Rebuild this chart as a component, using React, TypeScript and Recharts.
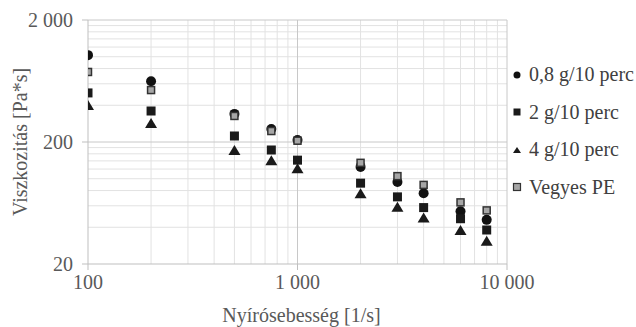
import React from 'react';
import { ScatterChart, Scatter, XAxis, YAxis, ReferenceLine } from 'recharts';

// shear rate [1/s]
const shearRates = [100, 200, 500, 750, 1000, 2000, 3000, 4000, 6000, 8000];

// viscosity [Pa*s] per material
const mfi08 = [1030, 630, 340, 256, 208, 125, 94, 76, 54, 46];
const mfi2 = [505, 359, 224, 172, 142, 92, 71, 58, 47, 38];
const mfi4 = [402, 286, 172, 142, 122, 76, 59, 48, 38, 31];
const mixedPE = [750, 533, 327, 246, 205, 135, 105, 89, 64, 55];

const xTicks = [100, 1000, 10000];
const yTicks = [20, 200, 2000];
const xMinor = [200, 300, 400, 500, 600, 700, 800, 900, 2000, 3000, 4000, 5000, 6000, 7000, 8000, 9000];
const yMinor = [40, 60, 80, 100, 120, 140, 160, 180, 400, 600, 800, 1000, 1200, 1400, 1600, 1800];
const xMajor = [1000, 10000];
const yMajor = [200, 2000];

const FONT = 'Liberation Serif, Times New Roman, serif';
const TEXT = '#595959';
const FS = 20;

const toPoints = (ys: number[]) => shearRates.map((x, i) => ({ x, y: ys[i] }));

const Circle = ({ cx, cy }: any) => <circle cx={cx} cy={cy} r={5} fill="#111" />;
const Square = ({ cx, cy }: any) => <rect x={cx - 4.5} y={cy - 4.5} width={9} height={9} fill="#1a1a1a" />;
const Triangle = ({ cx, cy }: any) => (
  <polygon points={`${cx},${cy - 5} ${cx + 6},${cy + 5} ${cx - 6},${cy + 5}`} fill="#1a1a1a" />
);
const GraySquare = ({ cx, cy }: any) => (
  <rect x={cx - 3.5} y={cy - 3.5} width={7} height={7} fill="#a6a6a6" stroke="#333" strokeWidth={1.5} />
);

const series = [
  { name: '0,8 g/10 perc', data: mfi08, shape: Circle },
  { name: '2 g/10 perc', data: mfi2, shape: Square },
  { name: '4 g/10 perc', data: mfi4, shape: Triangle },
  { name: 'Vegyes PE', data: mixedPE, shape: GraySquare },
];

const fmt = (v: number) =>
  v >= 1000 ? `${Math.floor(v / 1000)} ${String(v % 1000).padStart(3, '0')}` : String(v);

const LegendIcon = ({ i }: { i: number }) => (
  <svg width={10} height={10}>
    {i === 0 && <circle cx={5} cy={5} r={3.5} fill="#111" />}
    {i === 1 && <rect x={1.5} y={1.5} width={7} height={7} fill="#1a1a1a" />}
    {i === 2 && <polygon points="5,2 9,8 1,8" fill="#1a1a1a" />}
    {i === 3 && <rect x={1.5} y={1.5} width={7} height={7} fill="#a6a6a6" stroke="#333" strokeWidth={1.2} />}
  </svg>
);

export default function App() {
  return (
    <div className="chart" style={{ position: 'absolute', left: 0, top: 0, width: 636, height: 327, background: '#fff', fontFamily: FONT }}>
      <style>{`.chart, .chart text, .chart span { font-family: 'Liberation Serif', 'Times New Roman', serif !important; }`}</style>
      <ScatterChart width={636} height={327} margin={{ top: 20, right: 129, bottom: 0, left: 0 }}>
        <XAxis
          dataKey="x"
          type="number"
          scale="log"
          domain={[100, 10000]}
          allowDataOverflow
          ticks={xTicks}
          tickFormatter={fmt}
          height={63}
          stroke="#bfbfbf"
          tickSize={6}
          tickMargin={5}
          tick={{ fill: TEXT, fontSize: FS }}
          label={{ value: 'Nyírósebesség [1/s]', position: 'insideBottom', offset: 5, dx: 4, fill: TEXT, fontSize: FS }}
        />
        <YAxis
          dataKey="y"
          type="number"
          scale="log"
          domain={[20, 2000]}
          allowDataOverflow
          ticks={yTicks}
          tickFormatter={fmt}
          width={88}
          stroke="#bfbfbf"
          tickSize={6}
          tickMargin={9}
          tick={{ fill: TEXT, fontSize: FS }}
          label={{ value: 'Viszkozitás [Pa*s]', angle: -90, position: 'insideLeft', offset: 20, fill: TEXT, fontSize: FS, style: { textAnchor: 'middle' } }}
        />
        {xMinor.map((v) => (
          <ReferenceLine key={`xm${v}`} x={v} stroke="#e2e2e2" strokeWidth={1} />
        ))}
        {yMinor.map((v) => (
          <ReferenceLine key={`ym${v}`} y={v} stroke="#e2e2e2" strokeWidth={1} />
        ))}
        {xMajor.map((v) => (
          <ReferenceLine key={`xM${v}`} x={v} stroke="#c8c8c8" strokeWidth={1} />
        ))}
        {yMajor.map((v) => (
          <ReferenceLine key={`yM${v}`} y={v} stroke="#c8c8c8" strokeWidth={1} />
        ))}
        {series.map((s) => (
          <Scatter key={s.name} name={s.name} data={toPoints(s.data)} shape={s.shape} isAnimationActive={false} />
        ))}
      </ScatterChart>
      <div style={{ position: 'absolute', left: 512, top: 56 }}>
        {series.map((s, i) => (
          <div key={s.name} style={{ display: 'flex', alignItems: 'center', height: 37.5, color: '#404040', fontSize: FS, whiteSpace: 'nowrap' }}>
            <LegendIcon i={i} />
            <span style={{ marginLeft: 7 }}>{s.name}</span>
          </div>
        ))}
      </div>
    </div>
  );
}
